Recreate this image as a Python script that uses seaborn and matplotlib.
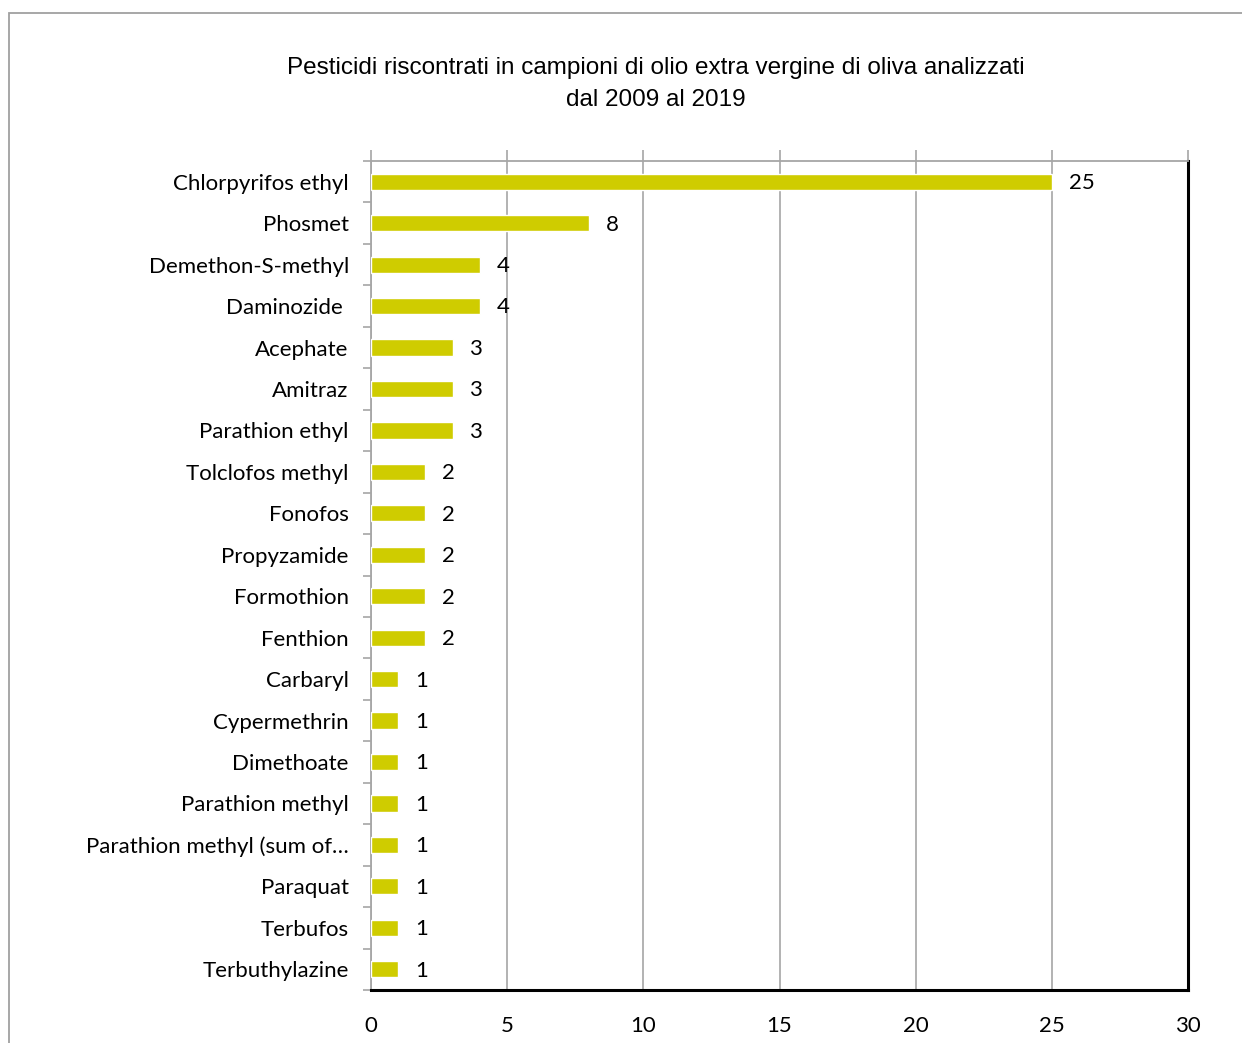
import matplotlib
matplotlib.use("Agg")
import matplotlib.pyplot as plt
from matplotlib.patches import Rectangle
from matplotlib.ticker import FixedLocator
import seaborn as sns
import pandas as pd

pesticides = [
    "Chlorpyrifos ethyl", "Phosmet", "Demethon-S-methyl", "Daminozide ",
    "Acephate", "Amitraz", "Parathion ethyl", "Tolclofos methyl", "Fonofos",
    "Propyzamide", "Formothion", "Fenthion", "Carbaryl", "Cypermethrin",
    "Dimethoate", "Parathion methyl", "Parathion methyl (sum of\u2026",
    "Paraquat", "Terbufos", "Terbuthylazine",
]
counts = [25, 8, 4, 4, 3, 3, 3, 2, 2, 2, 2, 2, 1, 1, 1, 1, 1, 1, 1, 1]
x_ticks = [0, 5, 10, 15, 20, 25, 30]
title = ("Pesticidi riscontrati in campioni di olio extra vergine di oliva analizzati\n"
         "dal 2009 al 2019")

df = pd.DataFrame({"pesticida": pesticides, "campioni": counts})

sns.set_theme(style="white")
label_font = ["Lato", "DejaVu Sans"]
title_font = ["Liberation Sans Narrow", "Liberation Sans", "DejaVu Sans"]
plt.rcParams["font.family"] = label_font
plt.rcParams["text.color"] = "black"
plt.rcParams["xtick.labelcolor"] = "black"
plt.rcParams["ytick.labelcolor"] = "black"

fig = plt.figure(figsize=(12.42, 10.43), dpi=100)
ax = fig.add_axes([371 / 1242, 1 - 990 / 1043, (1188 - 371) / 1242, (990 - 161) / 1043])

# outer chart frame
fig.patches.append(Rectangle((9 / 1242, -0.05), 1.2, 1 - 13 / 1043 + 0.05,
                             transform=fig.transFigure, fill=False,
                             edgecolor="#A0A0A0", linewidth=1.3, zorder=0))

sns.barplot(data=df, y="pesticida", x="campioni", orient="h", color="#CFCC00",
            saturation=1, width=0.39, ax=ax, zorder=3)

ax.set_xlim(0, 30)
ax.set_ylim(len(pesticides) - 0.5, -0.5)
ax.set_xticks(x_ticks)
ax.set_xticklabels([str(t) for t in x_ticks], fontsize=16)
ax.xaxis.grid(True, color="#A6A6A6", linewidth=1.2, zorder=0)
ax.set_axisbelow(True)
ax.set_xlabel("")
ax.set_ylabel("")

# x tick labels below, tick marks above the top edge
ax.tick_params(axis="x", which="major", bottom=False, top=True, labelbottom=True,
               direction="out", length=8, color="#A6A6A6", width=1.2, pad=11)

# category labels, with tick marks at the category boundaries
ax.tick_params(axis="y", which="major", left=False, labelsize=16, pad=10)
ax.yaxis.set_minor_locator(FixedLocator([i - 0.5 for i in range(len(pesticides) + 1)]))
ax.tick_params(axis="y", which="minor", left=True, direction="out", length=6,
               color="#A6A6A6", width=1.2)

for side in ("left", "top"):
    ax.spines[side].set_color("#A6A6A6")
    ax.spines[side].set_linewidth(1.3)
for side in ("right", "bottom"):
    ax.spines[side].set_color("black")
    ax.spines[side].set_linewidth(2.2)
    ax.spines[side].set_visible(True)

for i, v in enumerate(counts):
    ax.annotate(str(v), xy=(v, i), xytext=(12, -1), textcoords="offset points",
                ha="left", va="center", fontsize=16, color="black")

fig.text(0.528, 1 - 84 / 1043, title, ha="center", va="center", fontsize=17.5,
         family=title_font, linespacing=1.58, color="black")

fig.savefig("out.png", dpi=100)
